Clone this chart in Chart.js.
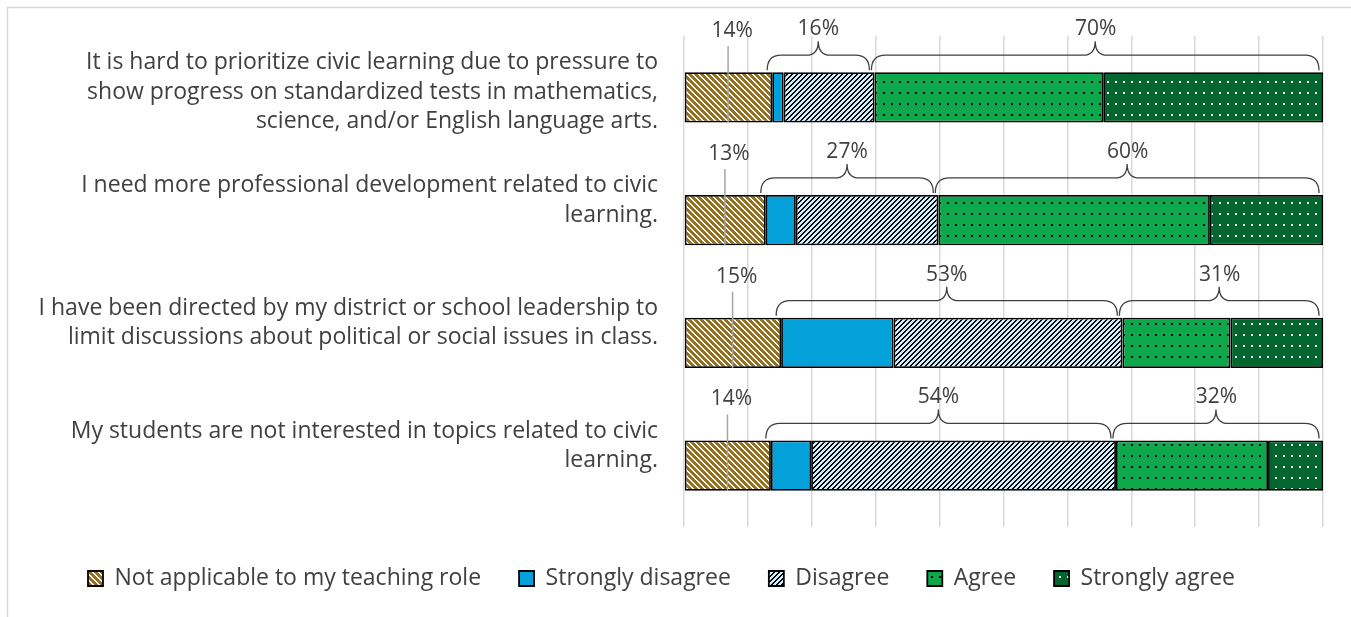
<!DOCTYPE html>
<html>
<head>
<meta charset="utf-8">
<script src="https://cdn.jsdelivr.net/npm/chart.js@4.4.0/dist/chart.umd.min.js"></script>
<style>
  html, body { margin: 0; padding: 0; background: #fff; }
  #wrap { width: 1351px; height: 617px; }
</style>
</head>
<body>
<div id="wrap"><canvas id="chart" width="1351" height="617"></canvas></div>
<script>
// Survey statements (one array per label, one string per line)
const categories = [
  ['It is hard to prioritize civic learning due to pressure to',
   'show progress on standardized tests in mathematics,',
   'science, and/or English language arts.'],
  ['I need more professional development related to civic', 'learning.', ''],
  ['I have been directed by my district or school leadership to',
   'limit discussions about political or social issues in class.', ''],
  ['My students are not interested in topics related to civic', 'learning.', '']
];

const seriesNames = ['Not applicable to my teaching role', 'Strongly disagree', 'Disagree', 'Agree', 'Strongly agree'];

// Percent of respondents
const notApplicable    = [13.8, 12.8, 15.2, 13.6];
const stronglyDisagree = [1.8, 4.7, 17.6, 6.3];
const disagree         = [14.2, 22.3, 35.8, 47.7];
const agree            = [35.8, 42.5, 16.9, 23.8];
const stronglyAgree    = [34.4, 17.7, 14.5, 8.6];

// Bracket labels
const naLabels       = ['14%', '13%', '15%', '14%'];
const disagreeLabels = ['16%', '27%', '53%', '54%'];
const agreeLabels    = ['70%', '60%', '31%', '32%'];

const FONT = "'Open Sans', 'DejaVu Sans', sans-serif";
const TEXT = '#404040';

// Build a small tiled canvas pattern
function makePattern(bg, fg, kind) {
  const size = kind === 'dots' ? 8 : (kind === 'back' ? 6 : 5);
  const h = kind === 'dots' ? 11 : size;
  const c = document.createElement('canvas');
  c.width = size; c.height = h;
  const g = c.getContext('2d');
  g.fillStyle = bg;
  g.fillRect(0, 0, size, h);
  g.fillStyle = fg;
  if (kind === 'dots') {
    g.fillRect(3, 4, 2, 2);
  } else {
    for (let py = 0; py < h; py++) {
      for (let px = 0; px < size; px++) {
        const d = kind === 'back' ? ((px - py) % size + size) % size : (px + py) % size;
        if (d < 2) g.fillRect(px, py, 1, 1);
      }
    }
  }
  return g.createPattern(c, 'repeat');
}

const fills = [
  makePattern('#94701f', '#ffffff', 'back'),
  '#04A0DA',
  makePattern('#CCEEFF', '#000000', 'fwd'),
  makePattern('#0EA84C', '#000000', 'dots'),
  makePattern('#03662F', '#ffffff', 'dots')
];

const seriesData = [notApplicable, stronglyDisagree, disagree, agree, stronglyAgree];

function drawBrace(ctx, x1, x2, top) {
  const yEnd = top - 2, yh = top - 17, yp = top - 31;
  const mid = (x1 + x2) / 2;
  const r = Math.min(14, (x2 - x1) / 4);
  const rm = Math.min(12, (x2 - x1) / 4);
  ctx.beginPath();
  ctx.moveTo(x1, yEnd);
  ctx.quadraticCurveTo(x1, yh, x1 + r, yh);
  ctx.lineTo(mid - rm, yh);
  ctx.quadraticCurveTo(mid, yh, mid, yp);
  ctx.quadraticCurveTo(mid, yh, mid + rm, yh);
  ctx.lineTo(x2 - r, yh);
  ctx.quadraticCurveTo(x2, yh, x2, yEnd);
  ctx.stroke();
}

// White background plus the chart frame
const framePlugin = {
  id: 'frame',
  beforeDraw(chart) {
    const ctx = chart.ctx;
    ctx.save();
    ctx.fillStyle = '#fff';
    ctx.fillRect(0, 0, chart.width, chart.height);
    ctx.strokeStyle = '#d9d9d9';
    ctx.lineWidth = 1.5;
    ctx.strokeRect(7.5, 7.5, chart.width + 20, chart.height + 20);
    ctx.restore();
  }
};

// Leader lines and curly brackets with the summed percentages
const bracketPlugin = {
  id: 'brackets',
  afterDatasetsDraw(chart) {
    const ctx = chart.ctx;
    const xs = chart.scales.x;
    const bars = chart.getDatasetMeta(0).data;
    ctx.save();
    ctx.font = '21px ' + FONT;
    ctx.textAlign = 'center';
    ctx.textBaseline = 'middle';
    categories.forEach((c, i) => {
      const top = bars[i].y - bars[i].height / 2;
      const bottom = bars[i].y + bars[i].height / 2;
      const x0 = xs.getPixelForValue(0);
      const naEnd = xs.getPixelForValue(notApplicable[i]);
      const disEnd = xs.getPixelForValue(notApplicable[i] + stronglyDisagree[i] + disagree[i]);
      const allEnd = xs.getPixelForValue(notApplicable[i] + stronglyDisagree[i] + disagree[i] + agree[i] + stronglyAgree[i]);

      const cx = (x0 + naEnd) / 2;
      ctx.strokeStyle = '#a6a6a6';
      ctx.lineWidth = 1.5;
      ctx.beginPath();
      ctx.moveTo(cx, top - 26);
      ctx.lineTo(cx, bottom);
      ctx.stroke();

      ctx.strokeStyle = '#404040';
      ctx.lineWidth = 1.3;
      drawBrace(ctx, naEnd - 5, disEnd - 5, top);
      drawBrace(ctx, disEnd - 3, allEnd - 4, top);

      ctx.fillStyle = TEXT;
      ctx.fillText(naLabels[i], cx + 4, top - 41);
      ctx.fillText(disagreeLabels[i], (naEnd + disEnd) / 2 - 5, top - 43);
      ctx.fillText(agreeLabels[i], (disEnd + allEnd) / 2 - 3, top - 43);
    });
    ctx.restore();
  }
};

new Chart(document.getElementById('chart'), {
  type: 'bar',
  data: {
    labels: categories,
    datasets: seriesNames.map((name, k) => ({
      label: name,
      data: seriesData[k],
      backgroundColor: fills[k],
      borderColor: '#000000',
      borderWidth: 1.8,
      borderSkipped: false,
      barPercentage: 0.41,
      categoryPercentage: 1
    }))
  },
  options: {
    indexAxis: 'y',
    responsive: false,
    animation: false,
    layout: { padding: { left: 0, right: 28, top: 36, bottom: 17 } },
    plugins: {
      legend: {
        position: 'bottom',
        labels: {
          color: TEXT,
          font: { family: FONT, size: 23 },
          boxWidth: 15,
          boxHeight: 15,
          padding: 38
        }
      },
      tooltip: { enabled: false }
    },
    scales: {
      x: {
        stacked: true,
        min: 0,
        max: 100,
        ticks: { display: false, stepSize: 10 },
        grid: { color: '#d9d9d9', lineWidth: 1.5, drawTicks: false },
        border: { display: false },
        afterFit(scale) { scale.height = 2; }
      },
      y: {
        stacked: true,
        grid: { display: false },
        border: { display: false },
        ticks: {
          color: TEXT,
          padding: 18,
          labelOffset: -5,
          font: { family: FONT, size: 23, lineHeight: 1.28 }
        },
        afterFit(scale) {
          scale.width = 684;
          scale.paddingTop = 0;
          scale.paddingBottom = 0;
        }
      }
    }
  },
  plugins: [framePlugin, bracketPlugin]
});
</script>
</body>
</html>
